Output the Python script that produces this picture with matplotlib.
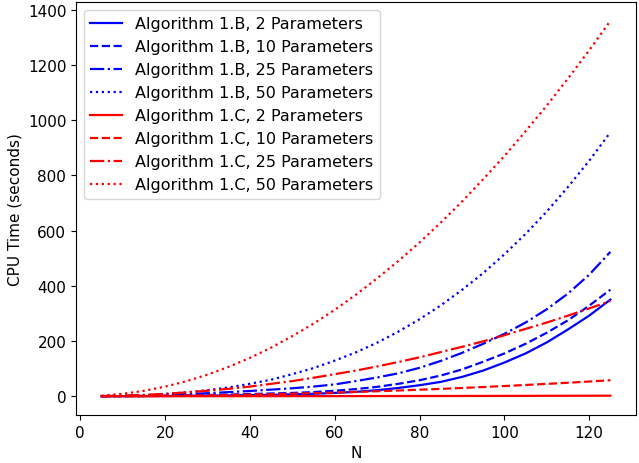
import numpy as np
import matplotlib
matplotlib.use('Agg')
import matplotlib.pyplot as plt

# Значения N
N = [5, 10, 15, 20, 25, 30, 35, 40, 45, 50, 55, 60, 65,
     70, 75, 80, 85, 90, 95, 100, 105, 110, 115, 120, 125]

# Algorithm 1.B
b_2 = [0.1, 0.3, 0.5, 1, 1.5, 2.2, 3, 4, 5, 7, 9, 12, 16,
       22, 30, 40, 52, 70, 93, 122, 155, 195, 242, 292, 350]
b_10 = [0.2, 0.5, 1, 2, 3, 4.5, 6, 8, 10, 12, 15, 20, 26,
        34, 45, 58, 75, 97, 125, 155, 190, 230, 275, 328, 386]
b_25 = [0.5, 1.5, 3, 5, 8, 11, 15, 19, 24, 29, 35, 43, 55,
        68, 83, 103, 128, 157, 190, 226, 267, 315, 372, 440, 523]
b_50 = [0.4, 1.6, 4, 8, 14, 22, 32, 45, 60, 80, 102, 129, 159,
        194, 234, 279, 329, 385, 446, 514, 588, 669, 758, 853, 956]

# Algorithm 1.C
c_2 = [0.0, 0.01, 0.03, 0.05, 0.08, 0.12, 0.16, 0.21, 0.26, 0.33, 0.39, 0.47, 0.55,
       0.64, 0.73, 0.83, 0.94, 1.05, 1.17, 1.3, 1.43, 1.57, 1.72, 1.87, 2.0]
c_10 = [0.1, 0.4, 0.8, 1.5, 2.3, 3.3, 4.5, 5.9, 7.5, 9.3, 11.2, 13.3, 15.6,
        18.1, 20.8, 23.7, 26.7, 30, 33.4, 37, 40.8, 44.8, 48.9, 53.3, 58]
c_25 = [0.6, 2.2, 5, 8.8, 14, 20, 27, 35, 45, 55, 67, 80, 93,
        108, 124, 141, 160, 179, 199, 221, 244, 267, 292, 318, 345]
c_50 = [2.2, 8.7, 19.6, 34.8, 54.4, 78.3, 106.6, 139, 176, 218, 263, 313, 368,
        427, 490, 557, 629, 705, 786, 870, 960, 1053, 1151, 1253, 1360]

series_b = [b_2, b_10, b_25, b_50]
series_c = [c_2, c_10, c_25, c_50]
params = [2, 10, 25, 50]
styles = ['-', '--', '-.', ':']

fig, ax = plt.subplots(figsize=(6.39, 4.64), dpi=100)
fig.subplots_adjust(left=0.119, right=0.995, top=0.9935, bottom=0.1034)

for ys, p, ls in zip(series_b, params, styles):
    ax.plot(N, ys, color='blue', linestyle=ls, linewidth=1.6,
            label='Algorithm 1.B, %d Parameters' % p)
for ys, p, ls in zip(series_c, params, styles):
    ax.plot(N, ys, color='red', linestyle=ls, linewidth=1.6,
            label='Algorithm 1.C, %d Parameters' % p)

ax.set_xticks(np.arange(0, 121, 20))
ax.set_yticks(np.arange(0, 1401, 200))
ax.tick_params(labelsize=11)

ax.set_xlabel('N', fontsize=11)
ax.set_ylabel('CPU Time (seconds)', fontsize=11)

ax.legend(loc='upper left', fontsize=11.5)

fig.savefig('out.png', dpi=100)
